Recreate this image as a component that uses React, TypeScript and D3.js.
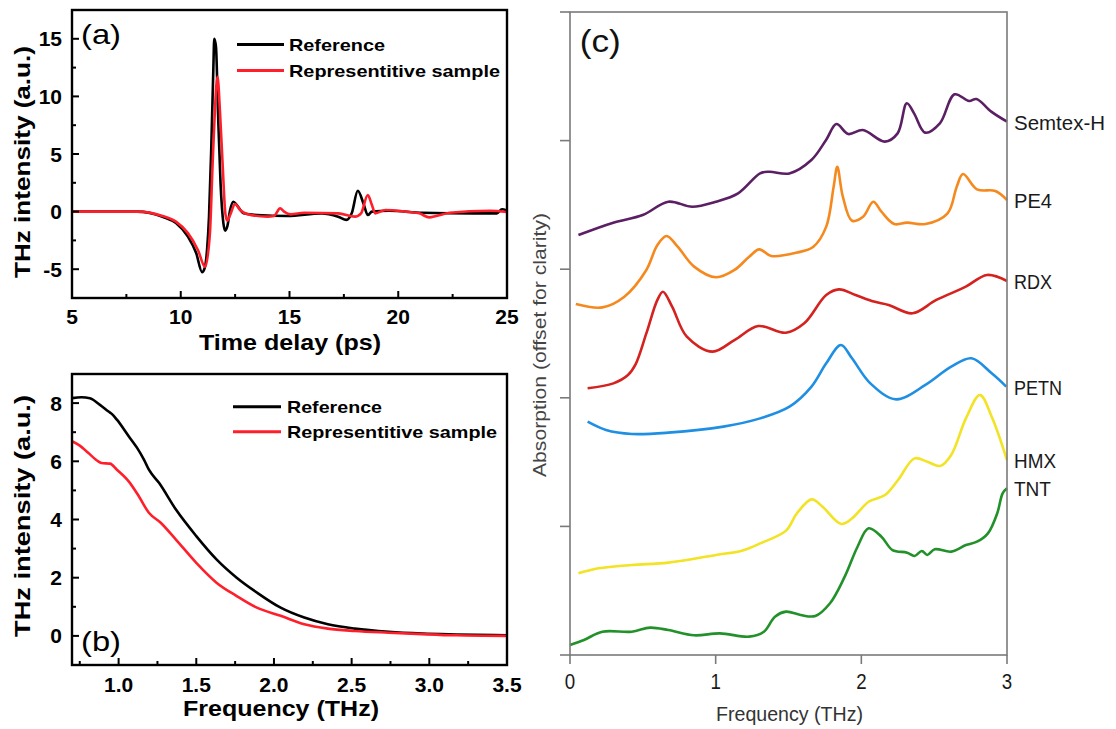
import React from "react";
import * as d3 from "d3";

type Pt = [number, number];

// ---------- panel (a): time domain pulses ----------
const timeTicks = [5, 10, 15, 20, 25];
const timeMinor = [7.5, 12.5, 17.5, 22.5];
const ampTicks = [-5, 0, 5, 10, 15];
const ampMinor = [-2.5, 2.5, 7.5, 12.5];

const refPulse: Pt[] = [
  [5, 0], [8, 0], [9.16, -0.44], [9.78, -1.0], [10.33, -2.17], [10.71, -3.6],
  [10.98, -5.25], [11.1, -4.9], [11.21, -3.3], [11.3, -0.44], [11.4, 5.3],
  [11.5, 12.5], [11.54, 15.0], [11.62, 14.3], [11.72, 8.2], [11.83, 2.45],
  [11.96, -1.0], [12.04, -1.65], [12.14, -1.29], [12.27, 0.14], [12.42, 0.86],
  [12.58, 0.57], [12.89, -0.15], [13.51, -0.3], [14.91, -0.38], [16.46, -0.15],
  [17.24, -0.44], [17.62, -0.72], [17.86, -0.15], [18.14, 1.81], [18.4, 0.71],
  [18.6, -0.3], [18.79, 0], [19.57, 0.08], [21.12, -0.1], [23.45, -0.15],
  [24.53, -0.15], [24.77, 0.2], [25, 0.08],
];

const samplePulse: Pt[] = [
  [5, 0], [8, 0], [9.16, -0.38], [9.78, -0.87], [10.33, -1.87], [10.79, -3.33],
  [11.12, -4.8], [11.34, -1.9], [11.46, 3.9], [11.57, 8.8], [11.69, 11.7],
  [11.8, 8.8], [11.93, 3.9], [12.05, -0.15], [12.14, -0.8], [12.27, -0.3],
  [12.5, 0.66], [12.73, 0.14], [13.04, -0.2], [13.98, -0.44], [14.29, -0.38],
  [14.57, 0.28], [14.75, 0], [15.06, -0.24], [15.68, -0.1], [17.24, -0.15],
  [18.01, -0.44], [18.29, -0.15], [18.6, 1.44], [18.79, 0.57], [18.94, -0.15],
  [19.41, 0.14], [20.34, 0], [20.96, -0.15], [21.43, -0.5], [21.74, -0.38],
  [22.36, -0.1], [24.22, 0.08], [25, -0.03],
];

// ---------- panel (b): spectra ----------
const freqTicksB = [1.0, 1.5, 2.0, 2.5, 3.0, 3.5];
const freqMinorB = [0.75, 1.25, 1.75, 2.25, 2.75, 3.25];
const specTicks = [0, 2, 4, 6, 8];
const specMinor = [1, 3, 5, 7];

const refSpectrum: Pt[] = [
  [0.7, 8.17], [0.761, 8.2], [0.815, 8.17], [0.88, 7.94], [0.935, 7.71],
  [0.956, 7.63], [0.989, 7.43], [1.065, 6.86], [1.119, 6.46], [1.163, 6.06],
  [1.195, 5.71], [1.26, 5.26], [1.369, 4.34], [1.5, 3.43], [1.63, 2.63],
  [1.76, 2.0], [1.89, 1.49], [2.043, 0.97], [2.195, 0.63], [2.347, 0.4],
  [2.52, 0.25], [2.738, 0.14], [2.955, 0.08], [3.172, 0.05], [3.5, 0.02],
];

const sampleSpectrum: Pt[] = [
  [0.7, 6.69], [0.75, 6.54], [0.804, 6.29], [0.869, 6.0], [0.891, 5.94],
  [0.945, 5.92], [0.989, 5.71], [1.065, 5.31], [1.13, 4.8], [1.195, 4.23],
  [1.271, 3.89], [1.369, 3.31], [1.5, 2.51], [1.63, 1.83], [1.76, 1.37],
  [1.89, 0.97], [2.043, 0.69], [2.195, 0.4], [2.347, 0.25], [2.52, 0.17],
  [2.738, 0.11], [2.955, 0.06], [3.172, 0.02], [3.5, 0],
];

// ---------- panel (c): explosive absorption spectra (offset) ----------
const freqTicksC = [0, 1, 2, 3];
const offsetTicks = [0, 1, 2, 3, 4, 5];

const semtex: Pt[] = [
  [0.058, 3.266], [0.297, 3.362], [0.499, 3.421], [0.675, 3.525], [0.839, 3.486],
  [1.003, 3.525], [1.154, 3.59], [1.305, 3.745], [1.368, 3.758], [1.506, 3.745],
  [1.657, 3.849], [1.758, 4.005], [1.829, 4.129], [1.91, 4.051], [2.01, 4.082],
  [2.161, 3.992], [2.249, 4.056], [2.312, 4.29], [2.362, 4.212], [2.438, 4.062],
  [2.539, 4.134], [2.64, 4.36], [2.74, 4.308], [2.79, 4.323], [2.892, 4.225],
  [3.0, 4.147],
];
const pe4: Pt[] = [
  [0.04, 2.729], [0.222, 2.703], [0.373, 2.786], [0.524, 2.994], [0.6, 3.188],
  [0.663, 3.258], [0.739, 3.175], [0.852, 3.02], [1.003, 2.937], [1.129, 2.994],
  [1.23, 3.097], [1.3, 3.154], [1.381, 3.103], [1.557, 3.129], [1.671, 3.175],
  [1.759, 3.331], [1.81, 3.642], [1.835, 3.797], [1.873, 3.564], [1.936, 3.377],
  [2.012, 3.408], [2.082, 3.525], [2.138, 3.447], [2.226, 3.351], [2.314, 3.362],
  [2.44, 3.351], [2.592, 3.434], [2.655, 3.642], [2.698, 3.74], [2.794, 3.621],
  [2.92, 3.608], [3.0, 3.538],
];
const rdx: Pt[] = [
  [0.121, 2.074], [0.298, 2.112], [0.398, 2.177], [0.45, 2.26], [0.524, 2.501],
  [0.6, 2.761], [0.638, 2.825], [0.701, 2.709], [0.802, 2.475], [0.978, 2.359],
  [1.129, 2.449], [1.293, 2.558], [1.482, 2.506], [1.608, 2.579], [1.759, 2.799],
  [1.847, 2.843], [1.96, 2.799], [2.086, 2.748], [2.187, 2.722], [2.351, 2.657],
  [2.515, 2.761], [2.717, 2.864], [2.863, 2.955], [3.0, 2.908],
];
const petn: Pt[] = [
  [0.121, 1.814], [0.247, 1.75], [0.424, 1.719], [0.675, 1.729], [1.053, 1.776],
  [1.305, 1.84], [1.507, 1.931], [1.658, 2.087], [1.759, 2.268], [1.86, 2.411],
  [1.936, 2.307], [2.062, 2.112], [2.239, 1.988], [2.44, 2.1], [2.617, 2.242],
  [2.756, 2.307], [2.895, 2.19], [2.995, 2.087],
];
const hmx: Pt[] = [
  [0.058, 0.635], [0.197, 0.674], [0.424, 0.7], [0.675, 0.718], [1.003, 0.778],
  [1.18, 0.811], [1.306, 0.868], [1.483, 0.967], [1.558, 1.102], [1.659, 1.21],
  [1.734, 1.153], [1.861, 1.019], [1.937, 1.063], [2.05, 1.192], [2.163, 1.244],
  [2.252, 1.361], [2.365, 1.529], [2.453, 1.503], [2.542, 1.47], [2.617, 1.555],
  [2.718, 1.84], [2.814, 2.022], [2.895, 1.853], [3.0, 1.516],
];
const tnt: Pt[] = [
  [0.0, 0.078], [0.096, 0.117], [0.222, 0.181], [0.424, 0.181], [0.55, 0.213],
  [0.675, 0.194], [0.852, 0.153], [1.029, 0.168], [1.23, 0.143], [1.331, 0.181],
  [1.407, 0.298], [1.483, 0.337], [1.583, 0.311], [1.684, 0.303], [1.785, 0.402],
  [1.886, 0.609], [1.974, 0.842], [2.05, 0.985], [2.138, 0.92], [2.214, 0.816],
  [2.315, 0.796], [2.365, 0.77], [2.415, 0.809], [2.453, 0.778], [2.504, 0.822],
  [2.617, 0.804], [2.718, 0.855], [2.794, 0.881], [2.869, 0.946], [2.933, 1.102],
  [2.97, 1.257], [3.0, 1.296],
];

const explosives = ["Semtex-H", "PE4", "RDX", "PETN", "HMX", "TNT"];
const explosiveData = [semtex, pe4, rdx, petn, hmx, tnt];
const explosiveColors = ["#5b1f63", "#f5891e", "#d4221f", "#1f8fe3", "#f2e324", "#22912a"];
const labelWidths = [91, 38, 38, 48, 42, 37];

const legendNames = ["Reference", "Representitive sample"];
const pairColors = ["#000000", "#ff1f2a"];

const BOLD = "'Liberation Sans', Arial, Helvetica, sans-serif";

// Origin-style panel used for (a) and (b)
function OriginPanel(props: {
  id: string;
  box: { l: number; r: number; t: number; b: number };
  xDomain: [number, number];
  yDomain: [number, number];
  xTicks: number[];
  xMinor: number[];
  yTicks: number[];
  yMinor: number[];
  xFmt: (d: number) => string;
  series: Pt[][];
  curve: d3.CurveFactory;
  xLabel: string;
  xLabelLen: number;
  xLabelX: number;
  xLabelY: number;
  xTickY: number;
  yLabelY: number;
  yLabelLen: number;
  legend: { x0: number; x1: number; y: number[]; tx: number; lens: number[] };
  tag: string;
  tagY: number;
}) {
  const { box } = props;
  const x = d3.scaleLinear().domain(props.xDomain).range([box.l, box.r]);
  const y = d3.scaleLinear().domain(props.yDomain).range([box.b, box.t]);
  const line = d3
    .line<Pt>()
    .x((d) => x(d[0]))
    .y((d) => y(d[1]))
    .curve(props.curve);

  return (
    <g fontFamily={BOLD}>
      <defs>
        <clipPath id={props.id}>
          <rect x={box.l} y={box.t} width={box.r - box.l} height={box.b - box.t} />
        </clipPath>
      </defs>
      <g clipPath={`url(#${props.id})`}>
        {props.series.map((s, i) => (
          <path key={i} d={line(s) || ""} fill="none" stroke={pairColors[i]}
            strokeWidth={2.6} strokeLinejoin="round" />
        ))}
      </g>
      <rect x={box.l} y={box.t} width={box.r - box.l} height={box.b - box.t}
        fill="none" stroke="#000" strokeWidth={2.4} />
      {props.xTicks.map((t) => (
        <g key={"xt" + t}>
          <line x1={x(t)} x2={x(t)} y1={box.b} y2={box.b - 7} stroke="#000" strokeWidth={2} />
          <text x={x(t)} y={props.xTickY} textAnchor="middle" fontSize={21} fontWeight="bold">
            {props.xFmt(t)}
          </text>
        </g>
      ))}
      {props.xMinor.map((t) => (
        <line key={"xm" + t} x1={x(t)} x2={x(t)} y1={box.b} y2={box.b - 4} stroke="#000" strokeWidth={2} />
      ))}
      {props.yTicks.map((t) => (
        <g key={"yt" + t}>
          <line x1={box.l} x2={box.l + 7} y1={y(t)} y2={y(t)} stroke="#000" strokeWidth={2} />
          <text x={62} y={y(t) + 7.5} textAnchor="end" fontSize={21} fontWeight="bold">
            {t}
          </text>
        </g>
      ))}
      {props.yMinor.map((t) => (
        <line key={"ym" + t} x1={box.l} x2={box.l + 4} y1={y(t)} y2={y(t)} stroke="#000" strokeWidth={2} />
      ))}
      <text x={props.xLabelX} y={props.xLabelY}
        textAnchor="middle" fontSize={22} fontWeight="bold"
        textLength={props.xLabelLen} lengthAdjust="spacingAndGlyphs">
        {props.xLabel}
      </text>
      <text transform={`translate(30,${props.yLabelY}) rotate(-90)`} textAnchor="middle"
        fontSize={22} fontWeight="bold" textLength={props.yLabelLen} lengthAdjust="spacingAndGlyphs">
        THz intensity (a.u.)
      </text>
      {legendNames.map((n, i) => (
        <g key={n}>
          <line x1={props.legend.x0} x2={props.legend.x1} y1={props.legend.y[i]} y2={props.legend.y[i]}
            stroke={pairColors[i]} strokeWidth={3} />
          <text x={props.legend.tx} y={props.legend.y[i] + 6.5} fontSize={17} fontWeight="bold"
            textLength={props.legend.lens[i]} lengthAdjust="spacingAndGlyphs">
            {n}
          </text>
        </g>
      ))}
      <text x={81} y={props.tagY} fontSize={28} textLength={40} lengthAdjust="spacingAndGlyphs">
        {props.tag}
      </text>
    </g>
  );
}

function PanelC() {
  const box = { l: 570, r: 1007, t: 12, b: 655 };
  const x = d3.scaleLinear().domain([0, 3]).range([box.l, box.r]);
  const y = d3.scaleLinear().domain([0, 5]).range([box.b, box.t]);
  const line = d3
    .line<Pt>()
    .x((d) => x(d[0]))
    .y((d) => y(d[1]))
    .curve(d3.curveCatmullRom.alpha(0.5));
  const axisColor = "#7a7a7a";
  const font = "'Liberation Sans', Arial, Helvetica, sans-serif";
  return (
    <g fontFamily={font}>
      {explosiveData.map((s, i) => (
        <path key={explosives[i]} d={line(s) || ""} fill="none" stroke={explosiveColors[i]}
          strokeWidth={2.6} strokeLinejoin="round" />
      ))}
      <rect x={box.l} y={box.t} width={box.r - box.l} height={box.b - box.t}
        fill="none" stroke={axisColor} strokeWidth={1.6} />
      {offsetTicks.map((t) => (
        <line key={"ct" + t} x1={box.l - 10} x2={box.l} y1={y(t)} y2={y(t)} stroke={axisColor} strokeWidth={1.6} />
      ))}
      {freqTicksC.map((t) => (
        <g key={"cx" + t}>
          <line x1={x(t)} x2={x(t)} y1={box.b} y2={box.b + 9} stroke={axisColor} strokeWidth={1.6} />
          <text transform={`translate(${x(t)},689) scale(0.85,1)`} textAnchor="middle"
            fontSize={22} fill="#1a1a1a">
            {t}
          </text>
        </g>
      ))}
      {explosives.map((n, i) => {
        const last = explosiveData[i][explosiveData[i].length - 1];
        return (
          <text key={n} x={1014} y={y(last[1]) + 8} fontSize={21} fill="#1a1a1a"
            textLength={labelWidths[i]} lengthAdjust="spacingAndGlyphs">
            {n}
          </text>
        );
      })}
      <text x={789.5} y={721} textAnchor="middle" fontSize={21} fill="#333"
        textLength={147} lengthAdjust="spacingAndGlyphs">
        Frequency (THz)
      </text>
      <text transform="translate(546,345) rotate(-90)" textAnchor="middle" fontSize={19}
        fill="#444" textLength={264} lengthAdjust="spacingAndGlyphs">
        Absorption (offset for clarity)
      </text>
      <text x={579.7} y={52} fontSize={31} fill="#111" textLength={41} lengthAdjust="spacingAndGlyphs">
        (c)
      </text>
    </g>
  );
}

export default function App() {
  return (
    <svg width={1116} height={729} viewBox="0 0 1116 729"
      style={{ position: "absolute", left: 0, top: 0, background: "#fff" }}>
      <rect width={1116} height={729} fill="#fff" />
      <OriginPanel
        id="clipA"
        box={{ l: 72, r: 507, t: 10, b: 298 }}
        xDomain={[5, 25]}
        yDomain={[-7.5, 17.5]}
        xTicks={timeTicks}
        xMinor={timeMinor}
        yTicks={ampTicks}
        yMinor={ampMinor}
        xFmt={(d) => String(d)}
        series={[refPulse, samplePulse]}
        curve={d3.curveMonotoneX}
        xLabel="Time delay (ps)"
        xLabelLen={182}
        xLabelX={290}
        xLabelY={350}
        xTickY={324}
        yLabelY={162}
        yLabelLen={232}
        legend={{ x0: 237, x1: 284, y: [44.5, 70.5], tx: 289, lens: [96, 211] }}
        tag="(a)"
        tagY={44}
      />
      <OriginPanel
        id="clipB"
        box={{ l: 72, r: 507, t: 374, b: 665 }}
        xDomain={[0.7, 3.5]}
        yDomain={[-1, 9]}
        xTicks={freqTicksB}
        xMinor={freqMinorB}
        yTicks={specTicks}
        yMinor={specMinor}
        xFmt={(d) => d.toFixed(1)}
        series={[refSpectrum, sampleSpectrum]}
        curve={d3.curveMonotoneX}
        xLabel="Frequency (THz)"
        xLabelLen={196}
        xLabelX={281}
        xLabelY={716}
        xTickY={692}
        yLabelY={516}
        yLabelLen={242}
        legend={{ x0: 233, x1: 281, y: [406.7, 431.7], tx: 287, lens: [95, 210] }}
        tag="(b)"
        tagY={651}
      />
      <PanelC />
    </svg>
  );
}
